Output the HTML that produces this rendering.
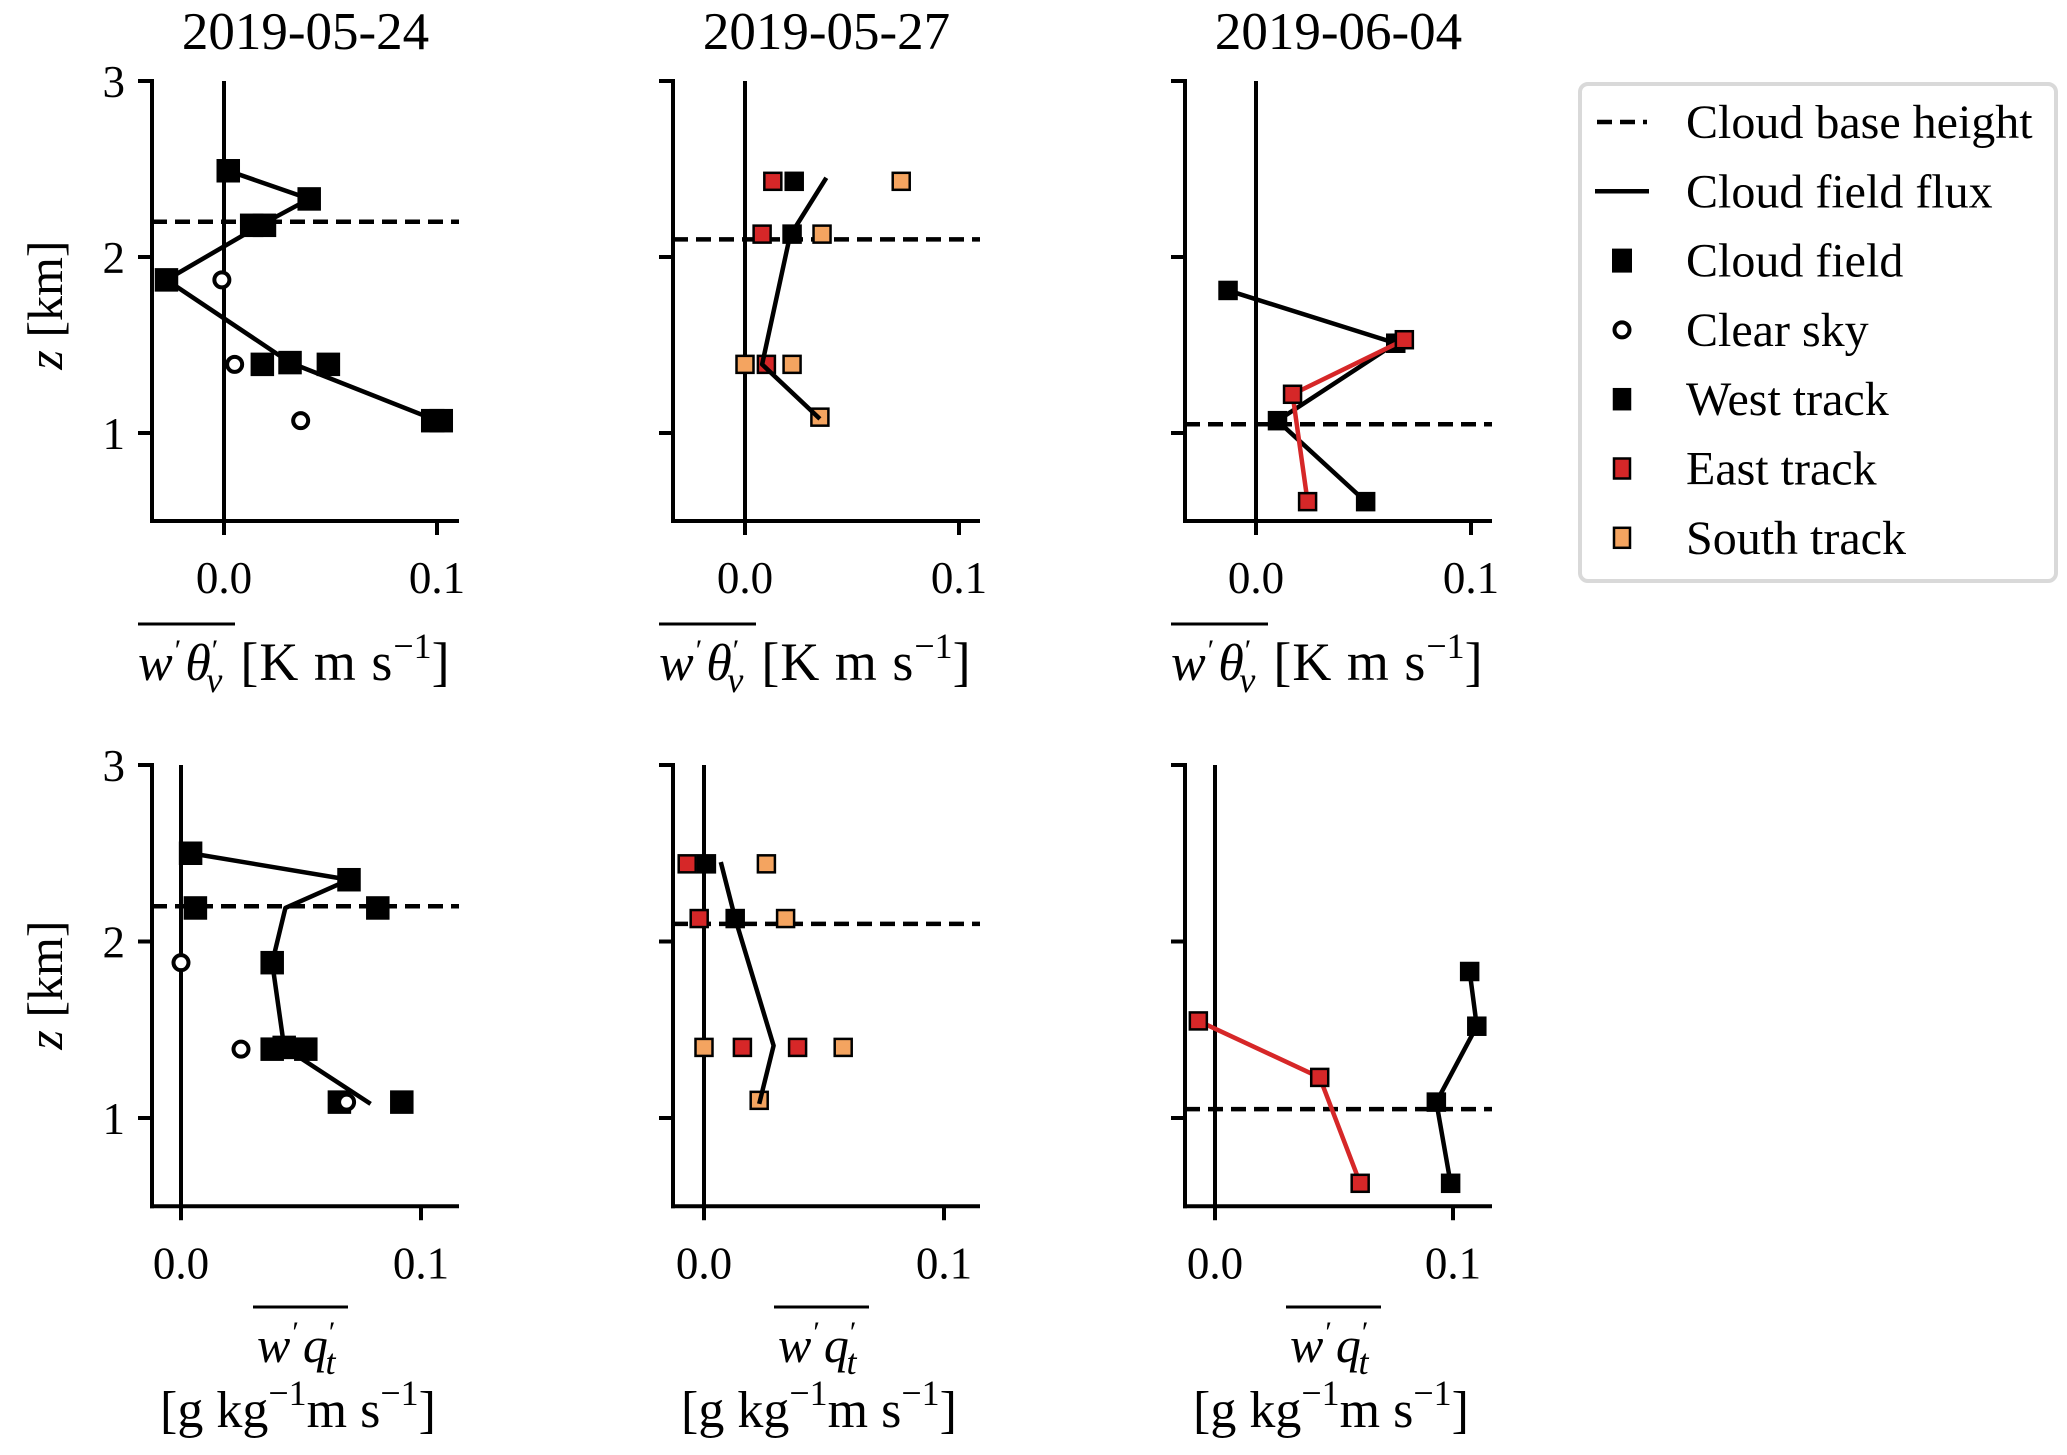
<!DOCTYPE html>
<html><head><meta charset="utf-8">
<style>
html,body{margin:0;padding:0;background:#fff;}
svg{display:block;font-family:"Liberation Serif",serif;}
</style></head>
<body>
<svg id="fig" width="2067" height="1455" viewBox="0 0 2067 1455" xmlns="http://www.w3.org/2000/svg"></svg>
<script>
// ---- data (value, height km) ----
const titles = ["2019-05-24","2019-05-27","2019-06-04"];
const cbhHeights = [2.20, 2.10, 1.05];
const xTickValues = [0.0, 0.1];
const xTickLabels = ["0.0","0.1"];
const yTickValues = [1, 2, 3];
const yTickLabels = ["1","2","3"];

// theta flux row
const th1FluxX = [0.002, 0.040, 0.017, -0.027, 0.031, 0.100];
const th1FluxZ = [2.49, 2.33, 2.18, 1.87, 1.40, 1.07];
const th1CloudX = [0.002, 0.040, 0.013, 0.019, -0.027, 0.018, 0.031, 0.049, 0.098, 0.102];
const th1CloudZ = [2.49, 2.33, 2.18, 2.18, 1.87, 1.39, 1.40, 1.39, 1.07, 1.07];
const th1ClearX = [-0.001, 0.005, 0.036];
const th1ClearZ = [1.87, 1.39, 1.07];

const th2FluxX = [0.038, 0.021, 0.008, 0.035];
const th2FluxZ = [2.45, 2.12, 1.39, 1.08];
const th2WestX = [0.023, 0.022];
const th2WestZ = [2.43, 2.13];
const th2EastX = [0.013, 0.008, 0.010];
const th2EastZ = [2.43, 2.13, 1.39];
const th2SouthX = [0.073, 0.036, 0.000, 0.022, 0.035];
const th2SouthZ = [2.43, 2.13, 1.39, 1.39, 1.09];

const th3WestX = [-0.013, 0.065, 0.010, 0.051];
const th3WestZ = [1.81, 1.51, 1.07, 0.61];
const th3EastX = [0.069, 0.017, 0.024];
const th3EastZ = [1.53, 1.22, 0.61];

// qt flux row
const q1FluxX = [0.004, 0.070, 0.0435, 0.038, 0.043, 0.079];
const q1FluxZ = [2.50, 2.35, 2.19, 1.88, 1.40, 1.08];
const q1CloudX = [0.004, 0.070, 0.006, 0.082, 0.038, 0.038, 0.043, 0.052, 0.066, 0.092];
const q1CloudZ = [2.50, 2.35, 2.19, 2.19, 1.88, 1.39, 1.40, 1.39, 1.09, 1.09];
const q1ClearX = [0.000, 0.025, 0.069];
const q1ClearZ = [1.88, 1.39, 1.09];

const q2FluxX = [0.007, 0.013, 0.029, 0.023];
const q2FluxZ = [2.45, 2.13, 1.41, 1.08];
const q2WestX = [0.001, 0.013];
const q2WestZ = [2.44, 2.13];
const q2EastX = [-0.007, -0.002, 0.016, 0.039];
const q2EastZ = [2.44, 2.13, 1.40, 1.40];
const q2SouthX = [0.026, 0.034, 0.000, 0.058, 0.023];
const q2SouthZ = [2.44, 2.13, 1.40, 1.40, 1.10];

const q3WestX = [0.107, 0.110, 0.093, 0.099];
const q3WestZ = [1.83, 1.52, 1.09, 0.63];
const q3EastX = [-0.007, 0.044, 0.061];
const q3EastZ = [1.55, 1.23, 0.63];

// ---- layout ----
const NS = "http://www.w3.org/2000/svg";
const svg = document.getElementById('fig');
function el(tag, attrs, parent){
  const e = document.createElementNS(NS, tag);
  for (const k in attrs) e.setAttribute(k, attrs[k]);
  (parent||svg).appendChild(e);
  return e;
}
const RED = "#d62728", ORANGE = "#f4a460", BLK = "#000";
const LW = 4;

const panels = [
 {row:0, left:152, x0:224, xu:2130, top:81, zu:176},
 {row:0, left:673, x0:745, xu:2140, top:81, zu:176},
 {row:0, left:1185, x0:1256, xu:2150, top:81, zu:176},
 {row:1, left:152, x0:181, xu:2400, top:765, zu:176.5},
 {row:1, left:673, x0:704, xu:2400, top:765, zu:176.5},
 {row:1, left:1185, x0:1215, xu:2380, top:765, zu:176.5},
];
const W = 307;

function drawPanel(i, p, series){
  const g = el('g', {});
  
  
  const X = v => p.x0 + v * p.xu;
  const Y = z => p.top + (3 - z) * p.zu;
  const bottom = Y(0.5), right = p.left + W;
  const ls = el('line', {x1:p.left, y1:Y(3)-2, x2:p.left, y2:bottom+2, stroke:BLK, 'stroke-width':LW}, g);
   
  const bs = el('line', {x1:p.left-2, y1:bottom, x2:right, y2:bottom, stroke:BLK, 'stroke-width':LW}, g);
   
  yTickValues.forEach((v,k)=>{
    el('line', {x1:p.left-14, y1:Y(v), x2:p.left, y2:Y(v), stroke:BLK, 'stroke-width':LW}, g);
    if (i%3===0){
      const t = el('text', {x:p.left-27, y:Y(v)+16, 'font-size':45, 'text-anchor':'end'}, g);
       
      t.textContent = yTickLabels[k];
    }
  });
  xTickValues.forEach((v,k)=>{
    el('line', {x1:X(v), y1:bottom, x2:X(v), y2:bottom+14, stroke:BLK, 'stroke-width':LW}, g);
    const t = el('text', {x:X(v), y:bottom+72, 'font-size':45, 'text-anchor':'middle'}, g);
     
    t.textContent = xTickLabels[k];
  });
  const zl = el('line', {x1:X(0), y1:Y(3), x2:X(0), y2:bottom, stroke:BLK, 'stroke-width':LW}, g);
   
  const cb = el('line', {x1:p.left, y1:Y(cbhHeights[i%3]), x2:right, y2:Y(cbhHeights[i%3]), stroke:BLK, 'stroke-width':4.5, 'stroke-dasharray':'15 8'}, g);
   
  series.forEach(s=>{
    if (s.type==='line'){
      const pts = s.x.map((v,k)=>X(v)+','+Y(s.z[k])).join(' ');
      const pl = el('polyline', {points:pts, fill:'none', stroke:s.color, 'stroke-width':4.5, 'stroke-linejoin':'round'}, g);
       
    } else if (s.type==='sq'){
      s.x.forEach((v,k)=>{
        const r = el('rect', {x:X(v)-s.size/2, y:Y(s.z[k])-s.size/2, width:s.size, height:s.size, fill:s.color, stroke:BLK, 'stroke-width':2.5}, g);
         
      });
    } else if (s.type==='circ'){
      s.x.forEach((v,k)=>{
        const c = el('circle', {cx:X(v), cy:Y(s.z[k]), r:7.5, fill:'#fff', stroke:BLK, 'stroke-width':4}, g);
         
      });
    }
  });
  if (p.row===0){
    const t = el('text', {x:p.left+W/2, y:49, 'font-size':53, 'text-anchor':'middle'}, g);
     
    t.textContent = titles[i];
  }
  const dx = p.left - 152;
  if (p.row===0){
    el('line', {x1:138+dx, y1:624, x2:235+dx, y2:624, stroke:BLK, 'stroke-width':3}, g);
    const t = el('text', {x:138+dx, y:680, 'font-size':52}, g);
     
    t.innerHTML = '<tspan font-style="italic">w</tspan><tspan font-size="30" dy="-20" dx="2">′</tspan><tspan font-style="italic" dy="20" dx="4">θ</tspan><tspan font-size="30" dy="-20" dx="1">′</tspan><tspan font-style="italic" font-size="36" dy="32" dx="-12">v</tspan><tspan dy="-12" dx="18" font-size="54" letter-spacing="1">[K m s</tspan><tspan font-size="36" dy="-22">−1</tspan><tspan dy="22" font-size="54">]</tspan>';
  } else {
    el('line', {x1:253+dx, y1:1307, x2:348+dx, y2:1307, stroke:BLK, 'stroke-width':3}, g);
    const t = el('text', {x:257+dx, y:1362, 'font-size':50}, g);
     
    t.innerHTML = '<tspan font-style="italic">w</tspan><tspan font-size="30" dy="-20" dx="2">′</tspan><tspan font-style="italic" dy="20" dx="4">q</tspan><tspan font-size="30" dy="-20" dx="1">′</tspan><tspan font-style="italic" font-size="36" dy="32" dx="-10">t</tspan>';
    const t2 = el('text', {x:298+dx, y:1427, 'font-size':52, 'text-anchor':'middle'}, g);
     
    t2.innerHTML = '[g kg<tspan font-size="36" dy="-22">−1</tspan><tspan dy="22">m s</tspan><tspan font-size="36" dy="-22">−1</tspan><tspan dy="22">]</tspan>';
  }
  if (i%3===0){
    const cy = p.row===0 ? 305 : 985;
    const t = el('text', {x:0, y:0, 'font-size':50, 'text-anchor':'middle', transform:'translate(62,'+cy+') rotate(-90)'}, g);
     
    t.innerHTML = '<tspan font-style="italic">z</tspan>  [km]';
  }
}

const CF=21, TR=17;
drawPanel(0, panels[0], [
  {type:'line', x:th1FluxX, z:th1FluxZ, color:BLK, name:'cloud-field-flux-line'},
  {type:'sq', x:th1CloudX, z:th1CloudZ, color:BLK, size:CF, name:'cloud-field-marker'},
  {type:'circ', x:th1ClearX, z:th1ClearZ, name:'clear-sky-marker'}]);
drawPanel(1, panels[1], [
  {type:'sq', x:th2WestX, z:th2WestZ, color:BLK, size:TR, name:'west-track-marker'},
  {type:'sq', x:th2SouthX, z:th2SouthZ, color:ORANGE, size:TR, name:'south-track-marker'},
  {type:'sq', x:th2EastX, z:th2EastZ, color:RED, size:TR, name:'east-track-marker'},
  {type:'line', x:th2FluxX, z:th2FluxZ, color:BLK, name:'cloud-field-flux-line'}]);
drawPanel(2, panels[2], [
  {type:'line', x:th3WestX, z:th3WestZ, color:BLK, name:'west-track-line'},
  {type:'sq', x:th3WestX, z:th3WestZ, color:BLK, size:TR, name:'west-track-marker'},
  {type:'line', x:th3EastX, z:th3EastZ, color:RED, name:'east-track-line'},
  {type:'sq', x:th3EastX, z:th3EastZ, color:RED, size:TR, name:'east-track-marker'}]);
drawPanel(3, panels[3], [
  {type:'line', x:q1FluxX, z:q1FluxZ, color:BLK, name:'cloud-field-flux-line'},
  {type:'sq', x:q1CloudX, z:q1CloudZ, color:BLK, size:CF, name:'cloud-field-marker'},
  {type:'circ', x:q1ClearX, z:q1ClearZ, name:'clear-sky-marker'}]);
drawPanel(4, panels[4], [
  {type:'sq', x:q2WestX, z:q2WestZ, color:BLK, size:TR, name:'west-track-marker'},
  {type:'sq', x:q2SouthX, z:q2SouthZ, color:ORANGE, size:TR, name:'south-track-marker'},
  {type:'sq', x:q2EastX, z:q2EastZ, color:RED, size:TR, name:'east-track-marker'},
  {type:'line', x:q2FluxX, z:q2FluxZ, color:BLK, name:'cloud-field-flux-line'}]);
drawPanel(5, panels[5], [
  {type:'line', x:q3WestX, z:q3WestZ, color:BLK, name:'west-track-line'},
  {type:'sq', x:q3WestX, z:q3WestZ, color:BLK, size:TR, name:'west-track-marker'},
  {type:'line', x:q3EastX, z:q3EastZ, color:RED, name:'east-track-line'},
  {type:'sq', x:q3EastX, z:q3EastZ, color:RED, size:TR, name:'east-track-marker'}]);

// ---- legend ----
const lg = el('g', {});


el('rect', {x:1580, y:84, width:476, height:497, rx:8, fill:'#fff', stroke:'#d9d9d9', 'stroke-width':4}, lg);
const legendLabels = ["Cloud base height","Cloud field flux","Cloud field","Clear sky","West track","East track","South track"];
legendLabels.forEach((lab,k)=>{
  const cy = 122 + k*69.3;
  const mx = 1622;
  if (k===0) el('line', {x1:1597, y1:cy, x2:1647, y2:cy, stroke:BLK, 'stroke-width':4.5, 'stroke-dasharray':'15 8'}, lg);
  else if (k===1) el('line', {x1:1595, y1:cy, x2:1649, y2:cy, stroke:BLK, 'stroke-width':4.5}, lg);
  else if (k===2) el('rect', {x:mx-10, y:cy-12, width:20, height:24, fill:BLK}, lg);
  else if (k===3) el('circle', {cx:mx, cy:cy, r:7.5, fill:'#fff', stroke:BLK, 'stroke-width':4}, lg);
  else {
    const c = [BLK, RED, ORANGE][k-4];
    el('rect', {x:mx-8, y:cy-10, width:16, height:20, fill:c, stroke:BLK, 'stroke-width':2.5}, lg);
  }
  const t = el('text', {x:1686, y:cy+16, 'font-size':48}, lg);
  
  
  t.textContent = lab;
});
</script>
</body></html>
